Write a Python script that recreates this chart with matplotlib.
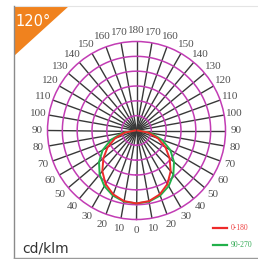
import numpy as np
import matplotlib
matplotlib.use("Agg")
import matplotlib.pyplot as plt
from matplotlib.patches import Polygon
from matplotlib.lines import Line2D

# Data (cd/klm) — values mirrored on both sides of the nadir
angles = [0, 10, 20, 30, 40, 50, 60, 70, 80, 90]
red_0_180 = [295, 290, 275, 250, 215, 175, 135, 92, 48, 5]
green_90_270 = [295, 292, 280, 260, 232, 198, 158, 110, 58, 8]
ring_values = [60, 120, 180, 240, 300, 360]
tick_angles = list(range(0, 360, 10))
beam_label = "120°"
unit_label = "cd/klm"
legend_labels = ["0-180", "90-270"]

rmax = ring_values[-1]
ring_col = "#c23cb4"
spoke_col = "#383838"
label_col = "#505050"
serif = ["Liberation Serif", "DejaVu Serif"]

fig = plt.figure(figsize=(2.58, 2.59), dpi=100)
fig.patch.set_facecolor("white")

W, H = 258, 259
def fx(x): return x / W
def fy(y): return 1 - y / H
fig.add_artist(Line2D([fx(14), fx(258)], [fy(6), fy(6)], color="#e4e4e4", lw=0.8))
fig.add_artist(Line2D([fx(14), fx(14)], [fy(6), fy(258)], color="#8a8a8a", lw=1.0))
fig.add_artist(Line2D([fx(14), fx(258)], [fy(257.5), fy(257.5)], color="#9a9a9a", lw=1.0))
tri = Polygon([[fx(14), fy(6)], [fx(69), fy(6)], [fx(14), fy(56)]], closed=True,
              facecolor="#f0821e", edgecolor="none", transform=fig.transFigure)
fig.add_artist(tri)
fig.text(fx(15), fy(22), beam_label, color="white", fontsize=10.5,
         family="DejaVu Sans", ha="left", va="center")
fig.text(fx(22), fy(248), unit_label, color="#333333", fontsize=10,
         family="DejaVu Sans", ha="left", va="center")

cx, cy, R = 136.5, 130.5, 89
ax = fig.add_axes([fx(cx - R), fy(cy + R), 2 * R / W, 2 * R / H], projection="polar")
ax.set_theta_zero_location("S")
ax.set_theta_direction(1)
ax.set_ylim(0, rmax)
ax.set_facecolor("none")
ax.grid(False)
ax.set_xticks([])
ax.set_yticks([])
ax.spines["polar"].set_color(ring_col)
ax.spines["polar"].set_linewidth(1.1)

t = np.linspace(0, 2 * np.pi, 361)
for rv in ring_values[:-1]:
    ax.plot(t, np.full_like(t, rv), color=ring_col, lw=1.1, zorder=2)
for a in tick_angles:
    th = np.deg2rad(a)
    ax.plot([th, th], [0, rmax], color=spoke_col, lw=1.0, zorder=1)
    lab = a if a <= 180 else 360 - a
    ax.text(th, rmax * 1.12, str(lab), color=label_col, fontsize=8,
            family=serif, ha="center", va="center", clip_on=False)

ang = np.array(angles, dtype=float)
for vals, col in [(green_90_270, "#22b04a"), (red_0_180, "#ee2a2a")]:
    v = np.array(vals, dtype=float)
    th = np.deg2rad(np.concatenate([-ang[::-1], ang[1:]]))
    rr = np.concatenate([v[::-1], v[1:]])
    ax.plot(th, rr, color=col, lw=1.4, zorder=4)

fig.add_artist(Line2D([fx(213), fx(227)], [fy(228), fy(228)], color="#ee2a2a", lw=1.6))
fig.text(fx(231), fy(228), legend_labels[0], color="#ee4444", fontsize=5.5,
         family=serif, ha="left", va="center")
fig.add_artist(Line2D([fx(213), fx(227)], [fy(245), fy(245)], color="#22b04a", lw=1.6))
fig.text(fx(231), fy(245), legend_labels[1], color="#33aa55", fontsize=5.5,
         family=serif, ha="left", va="center")

fig.savefig("out.png", dpi=100, facecolor="white")
